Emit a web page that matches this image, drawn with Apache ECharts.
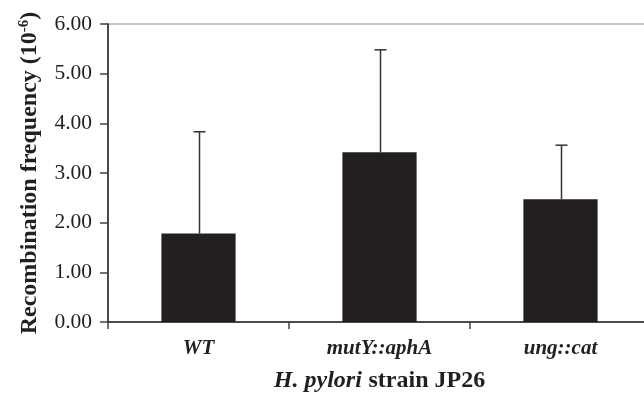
<!DOCTYPE html>
<html>
<head>
<meta charset="utf-8">
<script src="https://cdn.jsdelivr.net/npm/echarts@6/dist/echarts.min.js"></script>
<style>
  html, body { margin: 0; padding: 0; background: #fff; }
  #chart { width: 644px; height: 395px; }
</style>
</head>
<body>
<div id="chart"></div>
<script>
// values
const strains = ['WT', 'mutY::aphA', 'ung::cat'];
const freq = [1.78, 3.42, 2.47];
const errTop = [3.83, 5.48, 3.56];
const yTicks = [0, 1, 2, 3, 4, 5, 6];

let chartDom = document.getElementById('chart');
let myChart = echarts.init(chartDom);
let option;

const serif = '"Liberation Serif", "DejaVu Serif", serif';

option = {
    animation: false,
    grid: {
        left: 108,
        right: -7,
        top: 24,
        bottom: 73,
        outerBoundsMode: 'none',
        show: true,
        borderColor: '#8a8a8a',
        borderWidth: 1
    },
    xAxis: {
        type: 'category',
        data: strains,
        axisLine: { lineStyle: { color: '#222', width: 1.5 } },
        axisTick: { show: true, length: 7, lineStyle: { color: '#444', width: 1.5 } },
        axisLabel: {
            margin: 16,
            fontFamily: serif,
            fontSize: 21,
            fontWeight: 'bold',
            fontStyle: 'italic',
            color: '#231f20'
        },
        name: '{i|H. pylori}  {b|strain JP26}',
        nameLocation: 'middle',
        nameGap: 47,
        nameTextStyle: {
            rich: {
                i: { fontFamily: serif, fontSize: 24, fontWeight: 'bold', fontStyle: 'italic', color: '#231f20' },
                b: { fontFamily: serif, fontSize: 24, fontWeight: 'bold', color: '#231f20' }
            }
        }
    },
    yAxis: {
        type: 'value',
        min: yTicks[0],
        max: yTicks[yTicks.length - 1],
        interval: 1,
        splitLine: { show: false },
        axisLine: { show: true, lineStyle: { color: '#222', width: 1.5 } },
        axisTick: { show: true, length: 8, lineStyle: { color: '#444', width: 1.5 } },
        axisLabel: {
            margin: 16,
            fontFamily: serif,
            fontSize: 21.5,
            color: '#231f20',
            formatter: v => v.toFixed(2)
        },
        name: '{b|Recombination frequency (10}{s|-6}{b|)}',
        nameLocation: 'middle',
        nameGap: 66,
        nameRotate: 90,
        nameTextStyle: {
            rich: {
                b: { fontFamily: serif, fontSize: 24, fontWeight: 'bold', color: '#231f20' },
                s: { fontFamily: serif, fontSize: 15, fontWeight: 'bold', color: '#231f20', verticalAlign: 'top', padding: [0, 0, 10, 0] }
            }
        }
    },
    series: [
        {
            type: 'bar',
            data: freq,
            barWidth: '41%',
            itemStyle: { color: '#231f20' }
        },
        {
            type: 'custom',
            data: strains.map((s, i) => [i, freq[i], errTop[i]]),
            z: 3,
            renderItem: function (params, api) {
                const base = api.coord([api.value(0), api.value(1)]);
                const top = api.coord([api.value(0), api.value(2)]);
                const x = Math.round(base[0]) + 0.5;
                return {
                    type: 'group',
                    children: [
                        {
                            type: 'line',
                            shape: { x1: x, y1: base[1], x2: x, y2: top[1] },
                            style: { stroke: '#333', lineWidth: 1.5 }
                        },
                        {
                            type: 'line',
                            shape: { x1: x - 6, y1: top[1], x2: x + 6, y2: top[1] },
                            style: { stroke: '#333', lineWidth: 1.5 }
                        }
                    ]
                };
            }
        }
    ]
};

option && myChart.setOption(option);
</script>
</body>
</html>
